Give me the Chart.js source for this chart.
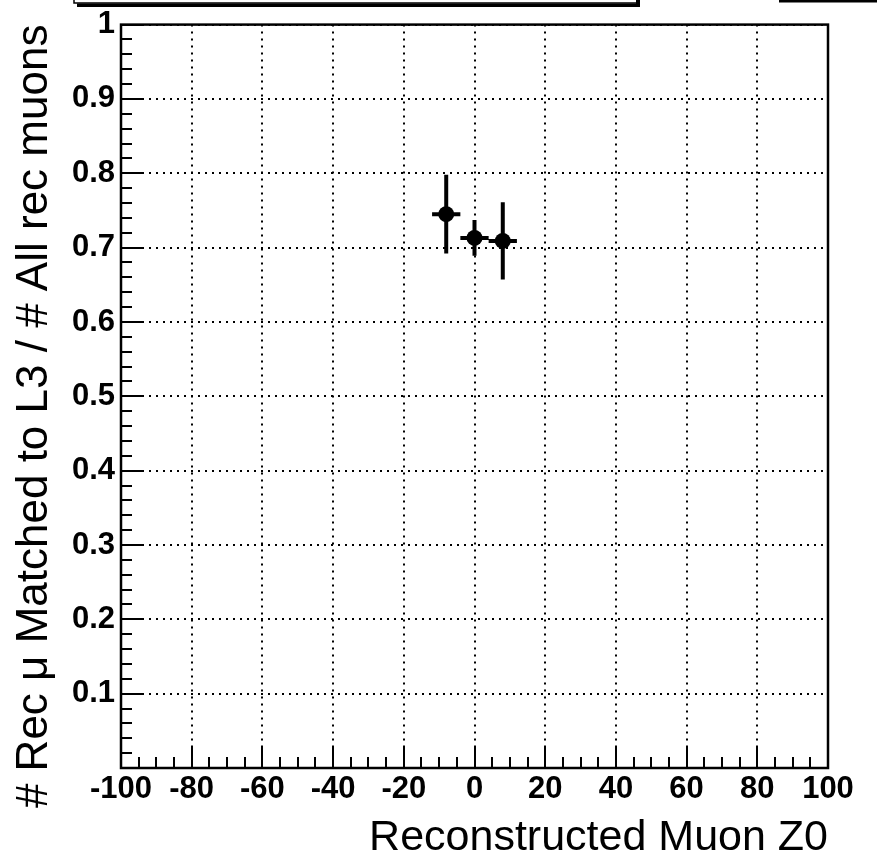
<!DOCTYPE html>
<html>
<head>
<meta charset="utf-8">
<script src="https://cdn.jsdelivr.net/npm/chart.js@4/dist/chart.umd.min.js"></script>
<style>
  html, body { margin: 0; padding: 0; background: #fff; }
  #wrap { position: relative; width: 877px; height: 867px; }
</style>
</head>
<body>
<div id="wrap"><canvas id="eff"></canvas></div>
<script>
// ---- data ----
const xValues = [-8, 0, 8];
const yValues = [0.745, 0.713, 0.709];
const yErr = [0.053, 0.024, 0.052];
const xErr = [4, 4, 4];

const xTicks = [-100, -80, -60, -40, -20, 0, 20, 40, 60, 80, 100];
const xTickLabels = ["-100", "-80", "-60", "-40", "-20", "0", "20", "40", "60", "80", "100"];
const yTicks = [0.1, 0.2, 0.3, 0.4, 0.5, 0.6, 0.7, 0.8, 0.9, 1.0];
const yTickLabels = ["0.1", "0.2", "0.3", "0.4", "0.5", "0.6", "0.7", "0.8", "0.9", "1"];

const xTitle = "Reconstructed Muon Z0";
const yTitle = "# Rec \u03bc Matched to L3 / # All rec muons";

const FONT = "'Liberation Sans', Arial, Helvetica, sans-serif";

// frame, inward ticks, error bars, and the cut-off boxes at the top
const rootStyle = {
  id: "rootStyle",
  beforeDatasetsDraw(chart) {
    const { ctx, chartArea: a, scales: { x, y } } = chart;
    ctx.save();
    ctx.strokeStyle = "#000";
    ctx.setLineDash([]);

    // y axis ticks (minor every 0.02, major every 0.1)
    ctx.lineWidth = 2;
    ctx.beginPath();
    for (let i = 0; i <= 50; i++) {
      const py = Math.round(y.getPixelForValue(i / 50));
      const len = i % 5 === 0 ? 22 : 11;
      ctx.moveTo(a.left, py);
      ctx.lineTo(a.left + len, py);
    }
    // x axis ticks (minor every 5, major every 20)
    for (let v = -100; v <= 100; v += 5) {
      const px = Math.round(x.getPixelForValue(v));
      const len = v % 20 === 0 ? 22 : 11;
      ctx.moveTo(px, a.bottom);
      ctx.lineTo(px, a.bottom - len);
    }
    ctx.stroke();

    // frame
    ctx.lineWidth = 2.5;
    ctx.strokeRect(a.left, a.top, a.right - a.left, a.bottom - a.top);

    // error bars
    ctx.lineWidth = 4;
    ctx.beginPath();
    xValues.forEach((xv, i) => {
      const px = x.getPixelForValue(xv);
      const py = y.getPixelForValue(yValues[i]);
      ctx.moveTo(px, y.getPixelForValue(yValues[i] + yErr[i]));
      ctx.lineTo(px, y.getPixelForValue(yValues[i] - yErr[i]));
      ctx.moveTo(x.getPixelForValue(xv - xErr[i]), py);
      ctx.lineTo(x.getPixelForValue(xv + xErr[i]), py);
    });
    ctx.stroke();
    ctx.restore();
  },
  afterDraw(chart) {
    const { ctx } = chart;
    ctx.save();
    ctx.fillStyle = "#000";
    ctx.strokeStyle = "#000";
    // title pave, mostly off the top (with its shadow)
    ctx.lineWidth = 1.5;
    ctx.strokeRect(74, -10, 563, 13);
    ctx.fillRect(77, 3.5, 563, 3.5);
    ctx.fillRect(636, 0, 4, 7);
    // stats pave at top right
    ctx.fillRect(779, 0, 98, 2.5);
    ctx.restore();
  }
};

new Chart(document.getElementById("eff"), {
  type: "scatter",
  data: {
    datasets: [{
      data: xValues.map((v, i) => ({ x: v, y: yValues[i] })),
      backgroundColor: "#000",
      borderColor: "#000",
      borderWidth: 0,
      pointRadius: 8,
      pointHoverRadius: 8
    }]
  },
  options: {
    responsive: true,
    maintainAspectRatio: false,
    animation: false,
    events: [],
    layout: { padding: { top: 20, right: 49, left: 0, bottom: 0 } },
    plugins: { legend: { display: false }, tooltip: { enabled: false } },
    scales: {
      x: {
        type: "linear",
        min: -100, max: 100,
        afterFit: s => { s.height = 99; },
        afterBuildTicks: s => { s.ticks = xTicks.map(v => ({ value: v })); },
        grid: { color: "#000", lineWidth: 2, drawTicks: false },
        border: { display: false, dash: [2, 5] },
        ticks: {
          color: "#000",
          padding: 3,
          maxRotation: 0,
          autoSkip: false,
          font: { family: FONT, size: 31, weight: "bold" },
          callback: v => xTickLabels[xTicks.indexOf(v)] ?? ""
        },
        title: {
          display: true, text: xTitle, align: "end", color: "#000",
          padding: { top: 0, bottom: 7 },
          font: { family: FONT, size: 43, lineHeight: 1 }
        }
      },
      y: {
        type: "linear",
        min: 0, max: 1,
        afterFit: s => { s.width = 121; },
        afterBuildTicks: s => { s.ticks = yTicks.map(v => ({ value: v })); },
        grid: { color: "#000", lineWidth: 2, drawTicks: false },
        border: { display: false, dash: [2, 5] },
        ticks: {
          color: "#000",
          padding: 6,
          autoSkip: false,
          font: { family: FONT, size: 31, weight: "bold" },
          callback: v => {
            const i = yTicks.findIndex(t => Math.abs(t - v) < 1e-9);
            return i >= 0 ? yTickLabels[i] : "";
          }
        },
        title: {
          display: true, text: yTitle, align: "end", color: "#000",
          padding: { top: 13, bottom: 0 },
          font: { family: FONT, size: 44, lineHeight: 1 }
        }
      }
    }
  },
  plugins: [rootStyle]
});
</script>
</body>
</html>
